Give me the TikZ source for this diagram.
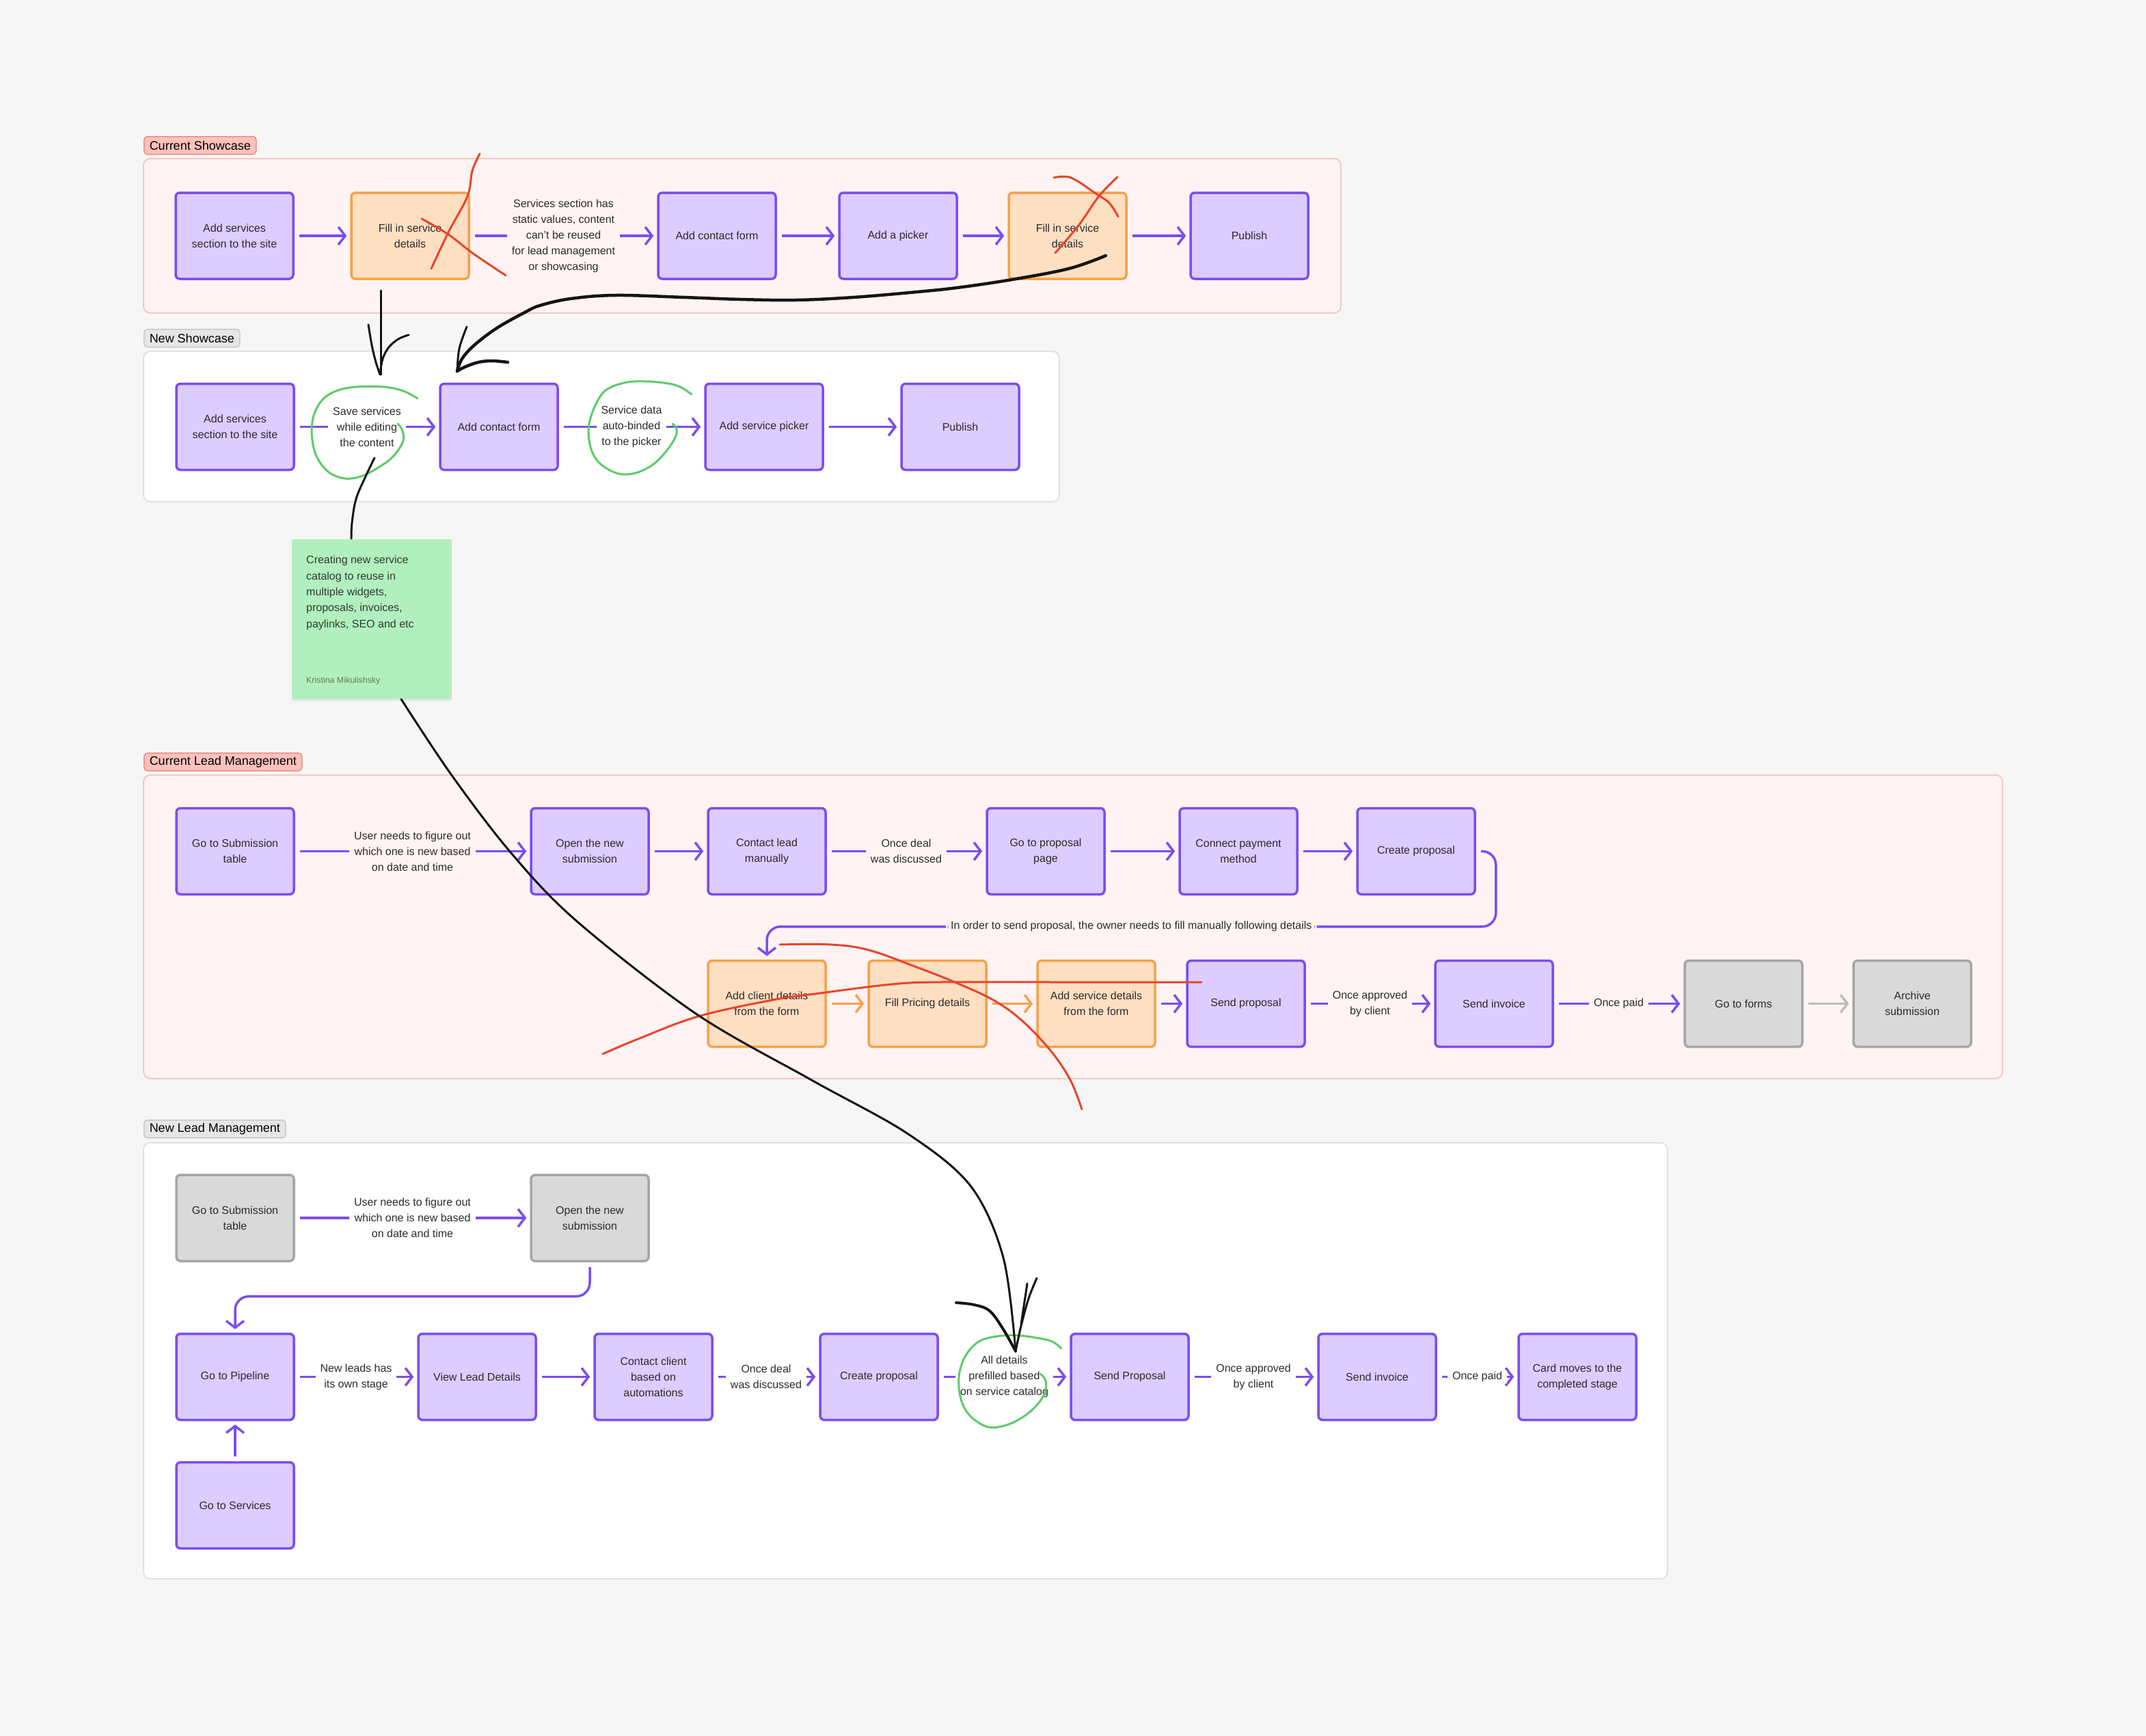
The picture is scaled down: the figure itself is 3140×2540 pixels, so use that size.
\documentclass[tikz,border=0pt]{standalone}
\usepackage{fontspec}
\setmainfont{Liberation Sans}
\usetikzlibrary{arrows.meta,calc,shadows}
\definecolor{bgc}{HTML}{F6F6F6}
\definecolor{purp}{HTML}{7C4DF0}
\definecolor{purpfill}{HTML}{DDCCFF}
\definecolor{orng}{HTML}{F8A14A}
\definecolor{orngfill}{HTML}{FFDFC2}
\definecolor{gryb}{HTML}{A6A6A6}
\definecolor{gryfill}{HTML}{D9D9D9}
\definecolor{curfill}{HTML}{FFF4F3}
\definecolor{curdraw}{HTML}{F5C9C3}
\definecolor{newdraw}{HTML}{E2E2E2}
\definecolor{tagcur}{HTML}{FBC2BB}
\definecolor{tagcurd}{HTML}{EB8E83}
\definecolor{tagnew}{HTML}{E6E6E6}
\definecolor{tagnewd}{HTML}{C8C8C8}
\definecolor{txt}{HTML}{2B2B2B}
\definecolor{redink}{HTML}{E8452C}
\definecolor{greenink}{HTML}{5FCB6A}
\definecolor{blackink}{HTML}{151515}
\definecolor{stickyc}{HTML}{B2EFBE}
\definecolor{stickytxt}{HTML}{2E3B30}
\definecolor{stickyauth}{HTML}{5F7D64}
\definecolor{grayarrow}{HTML}{BDBDBD}
\newcommand\bfnt{\fontsize{16}{23}\selectfont}
\tikzset{
  boxbase/.style={rectangle, rounded corners=6pt, minimum width=172pt, minimum height=126pt,
    line width=3.5pt, align=center, font=\bfnt, text=txt, inner sep=4pt},
  pbox/.style={boxbase, draw=purp, fill=purpfill},
  obox/.style={boxbase, draw=orng, fill=orngfill},
  gbox/.style={boxbase, draw=gryb, fill=gryfill},
  flow/.style={draw=purp, line width=3.5pt, shorten <=7pt, shorten >=5pt,
    -{Straight Barb[length=10pt,width=26pt]}},
  oflow/.style={flow, draw=orng},
  gflow/.style={flow, draw=grayarrow},
  lblc/.style={fill=curfill, inner xsep=7pt, inner ysep=2pt, align=center, font=\bfnt, text=txt},
  lbln/.style={lblc, fill=white},
  curcont/.style={draw=curdraw, fill=curfill, line width=2pt, rounded corners=10pt},
  newcont/.style={draw=newdraw, fill=white, line width=2pt, rounded corners=10pt},
  tagc/.style={anchor=north west, draw=tagcurd, fill=tagcur, line width=1.5pt, rounded corners=5pt,
    minimum height=26pt, inner xsep=8pt, inner ysep=0pt, font=\fontsize{18}{20}\selectfont, text=black},
  tagn/.style={tagc, draw=tagnewd, fill=tagnew},
  ink/.style={line width=3pt, line cap=round, line join=round},
}
\begin{document}
\begin{tikzpicture}[x=1pt,y=-1pt]
\fill[bgc] (0,0) rectangle (3140,2540);
\useasboundingbox (0,0) rectangle (3140,2540);

% ---------------- containers and tags
\draw[curcont] (210,232) rectangle (1962,458);
\node[tagc] (tagcs) at (210,199) {Current Showcase};
\draw[newcont] (210,514) rectangle (1550,734);
\node[tagn] (tagns) at (210,481) {New Showcase};
\draw[curcont] (210,1134) rectangle (2930,1578);
\node[tagc] (tagcl) at (210,1101) {Current Lead Management};
\draw[newcont] (210,1672) rectangle (2440,2310);
\node[tagn] (tagnl) at (210,1638) {New Lead Management};

% ---------------- Current Showcase
\node[pbox] (cs1) at (343,345) {Add services\\section to the site};
\node[obox] (cs2) at (600,345) {Fill in service\\details};
\node[pbox] (cs3) at (1049,345) {Add contact form};
\node[pbox] (cs4) at (1314,345) {Add a picker};
\node[obox] (cs5) at (1562,345) {Fill in service\\details};
\node[pbox] (cs6) at (1828,345) {Publish};
\draw[flow] (cs1) -- (cs2);
\draw[flow] (cs2) -- node[lblc] {Services section has\\static values, content\\can't be reused\\for lead management\\or showcasing} (cs3);
\draw[flow] (cs3) -- (cs4);
\draw[flow] (cs4) -- (cs5);
\draw[flow] (cs5) -- (cs6);

% ---------------- New Showcase
\node[pbox] (ns1) at (344,624.5) {Add services\\section to the site};
\node[pbox] (ns2) at (730,624.5) {Add contact form};
\node[pbox] (ns3) at (1118,624.5) {Add service picker};
\node[pbox] (ns4) at (1405,624.5) {Publish};
\draw[flow] (ns1) -- node[lbln] {Save services\\while editing\\the content} (ns2);
\draw[flow] (ns2) -- node[lbln] {Service data\\auto-binded\\to the picker} (ns3);
\draw[flow] (ns3) -- (ns4);

% ---------------- sticky note
\node[anchor=north west, fill=stickyc, minimum width=234pt, minimum height=234pt,
  drop shadow={opacity=0.12, shadow xshift=0pt, shadow yshift=-3pt}] (note) at (427,789) {};
\node[anchor=north west, align=left, inner sep=0pt, font=\fontsize{16}{23.3}\selectfont, text=stickytxt]
  (notetxt) at (448,813) {Creating new service\\catalog to reuse in\\multiple widgets,\\proposals, invoices,\\paylinks, SEO and etc};
\node[anchor=west, inner sep=0pt, font=\fontsize{12.4}{14}\selectfont, text=stickyauth]
  (noteauth) at (448,996) {Kristina Mikulishsky};

% ---------------- Current Lead Management
\node[pbox] (cl1) at (344,1245.5) {Go to Submission\\table};
\node[pbox] (cl2) at (863,1245.5) {Open the new\\submission};
\node[pbox] (cl3) at (1122,1245.5) {Contact lead\\manually};
\node[pbox] (cl4) at (1530,1245.5) {Go to proposal\\page};
\node[pbox] (cl5) at (1812,1245.5) {Connect payment\\method};
\node[pbox] (cl6) at (2072,1245.5) {Create proposal};
\node[obox] (cl7) at (1122,1468.5) {Add client details\\from the form};
\node[obox] (cl8) at (1357,1468.5) {Fill Pricing details};
\node[obox] (cl9) at (1604,1468.5) {Add service details\\from the form};
\node[pbox] (cl10) at (1823,1468.5) {Send proposal};
\node[pbox] (cl11) at (2186,1468.5) {Send invoice};
\node[gbox] (cl12) at (2551,1468.5) {Go to forms};
\node[gbox] (cl13) at (2798,1468.5) {Archive\\submission};
\draw[flow] (cl1) -- node[lblc] {User needs to figure out\\which one is new based\\on date and time} (cl2);
\draw[flow] (cl2) -- (cl3);
\draw[flow] (cl3) -- node[lblc] {Once deal\\was discussed} (cl4);
\draw[flow] (cl4) -- (cl5);
\draw[flow] (cl5) -- (cl6);
\draw[flow, rounded corners=20pt] (cl6.east) -- ++(29,0) |- node[pos=0.75, lblc] {In order to send proposal, the owner needs to fill manually following details} ($(cl7.north)+(0,-48)$) -- (cl7.north);
\draw[oflow] (cl7) -- (cl8);
\draw[oflow] (cl8) -- (cl9);
\draw[flow] (cl9) -- (cl10);
\draw[flow] (cl10) -- node[lblc] {Once approved\\by client} (cl11);
\draw[flow] (cl11) -- node[lblc] {Once paid} (cl12);
\draw[gflow] (cl12) -- (cl13);

% ---------------- New Lead Management
\node[gbox] (nl1) at (344,1782) {Go to Submission\\table};
\node[gbox] (nl2) at (863,1782) {Open the new\\submission};
\node[pbox] (nl3) at (344,2014.5) {Go to Pipeline};
\node[pbox] (nl4) at (698,2014.5) {View Lead Details};
\node[pbox] (nl5) at (956,2014.5) {Contact client\\based on\\automations};
\node[pbox] (nl6) at (1286,2014.5) {Create proposal};
\node[pbox] (nl7) at (1653,2014.5) {Send Proposal};
\node[pbox] (nl8) at (2015,2014.5) {Send invoice};
\node[pbox] (nl9) at (2308,2014.5) {Card moves to the\\completed stage};
\node[pbox] (nl10) at (344,2202.5) {Go to Services};
\draw[flow] (nl1) -- node[lbln] {User needs to figure out\\which one is new based\\on date and time} (nl2);
\draw[flow, rounded corners=20pt] (nl2.south) |- ($(nl3.north)+(0,-53)$) -- (nl3.north);
\draw[flow] (nl3) -- node[lbln] {New leads has\\its own stage} (nl4);
\draw[flow] (nl4) -- (nl5);
\draw[flow] (nl5) -- node[lbln] {Once deal\\was discussed} (nl6);
\draw[flow] (nl6) -- node[lbln] {All details\\prefilled based\\on service catalog} (nl7);
\draw[flow] (nl7) -- node[lbln] {Once approved\\by client} (nl8);
\draw[flow] (nl8) -- node[lbln] {Once paid} (nl9);
\draw[flow] (nl10) -- (nl3);

% ---------------- green circles
\draw[ink, greenink] plot[smooth, tension=0.6] coordinates {(611,583) (590,572) (560,566) (512,567) (480,578) (462,600) (456,630) (462,665) (480,690) (504,700) (528,697) (552,685) (575,668) (590,645) (588,628) (582,620)};
\draw[ink, greenink] plot[smooth, tension=0.6] coordinates {(1012,577) (995,566) (977,561) (945,558) (914,560) (885,572) (868,600) (861,630) (866,660) (880,680) (905,693) (930,692) (955,680) (975,660) (988,640) (990,628) (984,620)};
\draw[ink, greenink] plot[smooth, tension=0.6] coordinates {(1553,1973) (1540,1963) (1520,1958) (1490,1954) (1460,1955) (1432,1963) (1412,1985) (1403,2015) (1406,2047) (1418,2070) (1440,2086) (1460,2088) (1485,2080) (1510,2063) (1528,2040) (1530,2020) (1522,2010)};

% ---------------- red strikes
\draw[ink, redink] plot[smooth, tension=0.6] coordinates {(702,225) (691,250) (684,287) (656,340) (631,393)};
\draw[ink, redink] plot[smooth, tension=0.6] coordinates {(617,320) (656,343) (691,370) (740,403)};
\draw[ink, redink] plot[smooth, tension=0.6] coordinates {(1542,260) (1567,260) (1603,283) (1623,297) (1636,317)};
\draw[ink, redink] plot[smooth, tension=0.6] coordinates {(1635,259) (1608,287) (1578,330) (1544,370)};
\draw[ink, redink] plot[smooth, tension=0.6] coordinates {(882,1542) (934,1520) (1022,1487) (1131,1463) (1201,1453) (1306,1440) (1376,1437) (1558,1437) (1758,1437)};
\draw[ink, redink] plot[smooth, tension=0.6] coordinates {(1141,1382) (1215,1382) (1271,1390) (1341,1415) (1397,1437) (1453,1463) (1495,1493) (1537,1537) (1566,1580) (1583,1623)};

% ---------------- black ink arrows
\draw[ink, blackink] (557,425) -- (557,548);
\draw[ink, blackink] plot[smooth, tension=0.6] coordinates {(539,475) (544,505) (550,530) (556,548)};
\draw[ink, blackink] plot[smooth, tension=0.6] coordinates {(556,548) (560,525) (569,508) (583,496) (598,490)};

\draw[ink, blackink, line width=4.5pt] plot[smooth, tension=0.6] coordinates {(1618,374) (1564,393) (1481,409) (1400,421) (1332,428) (1249,435) (1165,439) (1083,438) (1000,435) (901,432) (835,437) (790,447) (768,457) (727,480) (694,505) (676,525) (669,543)};
\draw[ink, blackink] plot[smooth, tension=0.6] coordinates {(669,543) (672,510) (683,478)};
\draw[ink, blackink, line width=4.5pt] plot[smooth, tension=0.6] coordinates {(669,543) (680,537) (700,530) (720,528) (743,530)};

\draw[ink, blackink] plot[smooth, tension=0.6] coordinates {(548,670) (535,697) (521,730) (515,765) (514,788)};

\draw[ink, blackink] plot[smooth, tension=0.55] coordinates {(587,1023) (660,1133) (747,1247) (843,1347) (1018,1483) (1187,1580) (1327,1658) (1420,1735) (1468,1840) (1486,1977)};
\draw[ink, blackink, line width=4pt] plot[smooth, tension=0.6] coordinates {(1399,1906) (1425,1909) (1448,1918) (1468,1945) (1486,1977)};
\draw[ink, blackink] plot[smooth, tension=0.6] coordinates {(1486,1977) (1494,1940) (1505,1900) (1517,1870)};
\draw[ink, blackink] (1494,1938) -- (1503,1878);
\end{tikzpicture}
\end{document}
